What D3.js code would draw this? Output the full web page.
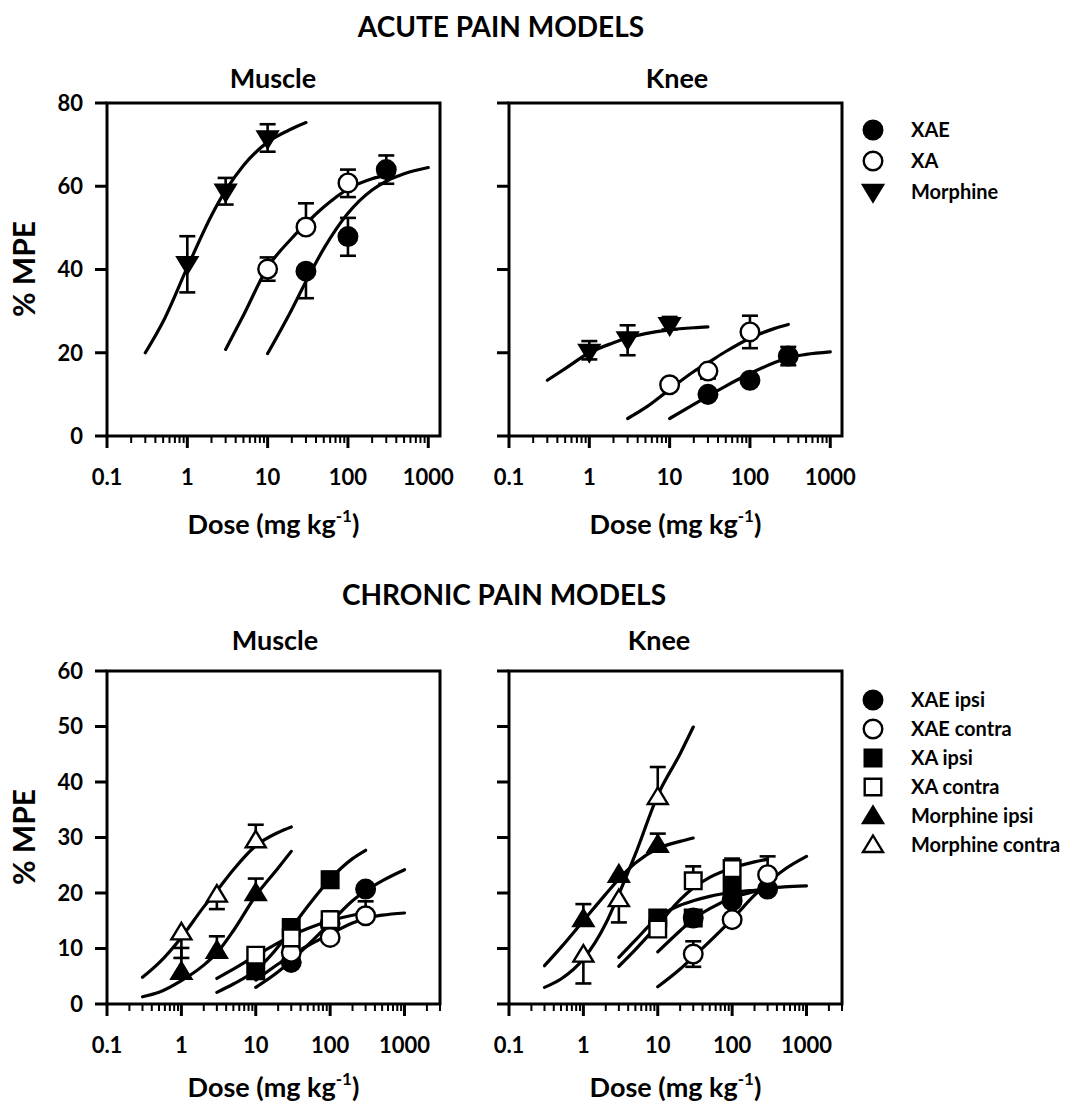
<!DOCTYPE html>
<html><head><meta charset="utf-8">
<script src="https://cdn.jsdelivr.net/npm/d3@7"></script>
<style>
body{margin:0;background:#fff}
svg{display:block}
text{font-family:Lato,'Open Sans',sans-serif;font-weight:700;fill:#000}
</style>
</head><body><div id="chart"></div>
<script>
// ================= DATA =================
const xTickValues = [0.1, 1, 10, 100, 1000];
const xTickLabels = ["0.1", "1", "10", "100", "1000"];
const acuteYTicks = [0, 20, 40, 60, 80];
const chronicYTicks = [0, 10, 20, 30, 40, 50, 60];

const morphineDoses = [1, 3, 10];
const xaDoses = [10, 30, 100];
const xaeDoses = [30, 100, 300];
const morphineFitDoses = [0.3, 0.5, 1, 2, 3, 5, 10, 20, 30];
const xaFitDoses = [3, 5, 10, 20, 30, 50, 100, 200, 300];
const xaeFitDoses = [10, 20, 30, 50, 100, 200, 300, 500, 1000];

// errors given as [up, down]; 0 = bar not drawn
// ACUTE – Muscle
const acuteMuscleXAE = [39.6, 47.9, 64.0];
const acuteMuscleXAEErr = [[0, 6.5], [4.5, 4.6], [3.4, 3.4]];
const acuteMuscleXAEFit = [19.8, 30.4, 37.1, 45.0, 53.5, 59.1, 61.2, 63.0, 64.5];
const acuteMuscleXA = [40.1, 50.2, 60.8];
const acuteMuscleXAErr = [[2.8, 2.8], [5.7, 0], [3.2, 3.4]];
const acuteMuscleXAFit = [20.8, 29.0, 40.5, 47.5, 51.0, 55.0, 59.3, 61.8, 62.6];
const acuteMuscleMorphine = [41.3, 58.7, 71.5];
const acuteMuscleMorphineErr = [[6.7, 6.8], [3.3, 3.1], [3.4, 3.2]];
const acuteMuscleMorphineFit = [20.0, 27.5, 40.5, 53.0, 59.0, 65.0, 70.6, 73.8, 75.3];

// ACUTE – Knee
const acuteKneeXAE = [10.0, 13.4, 19.2];
const acuteKneeXAEErr = [[0, 0], [0, 0], [2.2, 2.2]];
const acuteKneeXAEFit = [4.2, 7.6, 9.6, 12.0, 15.0, 17.6, 18.8, 19.6, 20.2];
const acuteKneeXA = [12.3, 15.6, 25.0];
const acuteKneeXAErr = [[0, 0], [0, 1.8], [3.9, 3.9]];
const acuteKneeXAFit = [4.2, 6.8, 11.2, 15.5, 17.6, 20.3, 23.5, 25.8, 26.8];
const acuteKneeMorphine = [20.2, 23.2, 26.6];
const acuteKneeMorphineErr = [[2.6, 1.8], [3.4, 3.8], [2.0, 1.0]];
const acuteKneeMorphineFit = [13.4, 16.2, 20.0, 22.4, 23.6, 24.6, 25.5, 26.0, 26.2];

// CHRONIC – Muscle
const chronicMuscleXAEIpsi = [7.5, 14.5, 20.7];
const chronicMuscleXAEIpsiErr = [[0, 0], [0, 0], [0, 0]];
const chronicMuscleXAEIpsiFit = [3.0, 5.8, 7.8, 10.6, 14.6, 18.6, 20.4, 22.2, 24.2];
const chronicMuscleXAEContra = [9.3, 12.0, 15.9];
const chronicMuscleXAEContraErr = [[0, 0], [0, 0], [2.6, 0]];
const chronicMuscleXAEContraFit = [4.3, 7.2, 8.8, 10.5, 12.6, 14.6, 15.4, 16.0, 16.4];
const chronicMuscleXAIpsi = [6.0, 13.8, 22.4];
const chronicMuscleXAIpsiErr = [[0, 0], [0, 0], [1.4, 0]];
const chronicMuscleXAIpsiFit = [2.1, 3.6, 6.1, 10.3, 13.6, 17.6, 22.5, 26.2, 27.7];
const chronicMuscleXAContra = [8.8, 11.9, 15.2];
const chronicMuscleXAContraErr = [[0, 0], [0, 0], [1.5, 0]];
const chronicMuscleXAContraFit = [4.6, 6.3, 8.7, 11.0, 12.3, 13.6, 15.0, 16.0, 16.4];
const chronicMuscleMorphineIpsi = [5.8, 9.6, 20.0];
const chronicMuscleMorphineIpsiErr = [[4.3, 0], [2.6, 0], [2.6, 0]];
const chronicMuscleMorphineIpsiFit = [1.3, 2.1, 4.2, 7.0, 9.2, 13.2, 19.5, 24.5, 27.5];
const chronicMuscleMorphineContra = [12.9, 19.7, 29.5];
const chronicMuscleMorphineContraErr = [[0, 4.6], [0, 2.6], [2.8, 0]];
const chronicMuscleMorphineContraFit = [4.8, 7.4, 12.0, 17.5, 20.4, 24.2, 28.5, 30.9, 31.9];

// CHRONIC – Knee
const chronicKneeXAEIpsi = [15.5, 18.6, 20.7];
const chronicKneeXAEIpsiErr = [[0, 0], [0, 0], [0, 0]];
const chronicKneeXAEIpsiFit = [9.4, 13.2, 15.3, 17.2, 19.1, 20.3, 20.8, 21.1, 21.3];
const chronicKneeXAEContra = [9.0, 15.2, 23.3];
const chronicKneeXAEContraErr = [[2.3, 2.3], [0, 0], [3.3, 0]];
const chronicKneeXAEContraFit = [3.1, 6.3, 8.5, 11.3, 15.3, 19.6, 21.8, 24.2, 26.6];
const chronicKneeXAIpsi = [15.5, 15.5, 21.0];
const chronicKneeXAIpsiErr = [[0, 0], [0, 0], [0, 0]];
const chronicKneeXAIpsiFit = [8.4, 11.5, 15.6, 17.8, 18.6, 19.4, 20.1, 20.5, 20.7];
const chronicKneeXAContra = [13.5, 22.2, 24.4];
const chronicKneeXAContraErr = [[0, 0], [2.6, 0], [1.8, 0]];
const chronicKneeXAContraFit = [6.8, 9.8, 14.2, 18.8, 20.9, 22.8, 24.5, 25.6, 26.1];
const chronicKneeMorphineIpsi = [15.3, 23.3, 28.7];
const chronicKneeMorphineIpsiErr = [[2.7, 0], [0, 0], [2.0, 0]];
const chronicKneeMorphineIpsiFit = [6.9, 10.2, 15.0, 19.8, 22.5, 25.4, 28.0, 29.3, 29.9];
const chronicKneeMorphineContra = [8.9, 18.9, 37.3];
const chronicKneeMorphineContraErr = [[0, 5.2], [0, 4.2], [5.4, 0]];
const chronicKneeMorphineContraFit = [3.0, 4.5, 8.1, 14.5, 19.8, 27.0, 37.6, 45.1, 49.9];

const acuteLegend = ["XAE", "XA", "Morphine"];
const chronicLegend = ["XAE ipsi", "XAE contra", "XA ipsi", "XA contra", "Morphine ipsi", "Morphine contra"];

// ================= DRAWING =================
const W = 1067, H = 1106, P = 333;
const svg = d3.select("#chart").append("svg").attr("width", W).attr("height", H);

function markerPath(shape) {
  switch (shape) {
    case "circle": return d3.symbol().type(d3.symbolCircle).size(Math.PI * 9.3 * 9.3)();
    case "square": return "M-8.3,-8.3H8.3V8.3H-8.3Z";
    case "triUp": return "M0,-9.5L10,7L-10,7Z";
    case "triDown": return "M0,9.5L10,-7L-10,-7Z";
  }
}

function series(doses, mean, err, fitDoses, fit, shape, filled) {
  return {
    pts: doses.map((d, i) => ({dose: d, v: mean[i], up: err[i][0], dn: err[i][1]})),
    fit: fitDoses.map((d, i) => ({dose: d, v: fit[i]})),
    shape, filled
  };
}

function drawPanel(ox, oy, xMax, yMax, yTicks, labelDy, list) {
  const g = svg.append("g").attr("transform", `translate(${ox},${oy})`);
  const x = d3.scaleLog().domain([0.1, xMax]).range([0, P]);
  const y = d3.scaleLinear().domain([0, yMax]).range([P, 0]);

  g.append("rect").attr("x", 0).attr("y", 0).attr("width", P).attr("height", P)
    .attr("fill", "none").attr("stroke", "#000").attr("stroke-width", 3);

  const allTicks = x.ticks();
  const majors = new Set(xTickValues);
  g.selectAll(".xt").data(allTicks).join("line")
    .attr("x1", d => x(d)).attr("x2", d => x(d))
    .attr("y1", P).attr("y2", d => majors.has(d) ? P + 12 : P + 7)
    .attr("stroke", "#000").attr("stroke-width", d => majors.has(d) ? 3 : 2);
  g.selectAll(".xl").data(xTickValues).join("text")
    .attr("x", d => x(d)).attr("y", P + 49).attr("text-anchor", "middle")
    .attr("font-size", 22).text((d, i) => xTickLabels[i]);

  g.selectAll(".yt").data(yTicks).join("line")
    .attr("x1", 0).attr("x2", -12).attr("y1", d => y(d)).attr("y2", d => y(d))
    .attr("stroke", "#000").attr("stroke-width", 3);

  const xl = g.append("text").attr("x", P / 2).attr("y", P + labelDy).attr("text-anchor", "middle").attr("font-size", 27);
  xl.append("tspan").text("Dose (mg kg");
  xl.append("tspan").attr("font-size", 17).attr("dy", -12).text("-1");
  xl.append("tspan").attr("dy", 12).text(")");

  const line = d3.line().x(d => x(d.dose)).y(d => y(d.v)).curve(d3.curveMonotoneX);
  list.forEach(s => {
    g.append("path").attr("d", line(s.fit)).attr("fill", "none").attr("stroke", "#000")
      .attr("stroke-width", 3.2).attr("stroke-linecap", "round");
  });
  list.forEach(s => {
    s.pts.forEach(p => {
      [[p.up, 1], [p.dn, -1]].forEach(([e, sg]) => {
        if (!e) return;
        const yy = y(p.v + sg * e), xx = x(p.dose);
        g.append("line").attr("x1", xx).attr("x2", xx).attr("y1", y(p.v)).attr("y2", yy)
          .attr("stroke", "#000").attr("stroke-width", 2.6);
        g.append("line").attr("x1", xx - 8).attr("x2", xx + 8).attr("y1", yy).attr("y2", yy)
          .attr("stroke", "#000").attr("stroke-width", 2.6);
      });
    });
  });
  list.forEach(s => {
    g.selectAll(null).data(s.pts).join("path")
      .attr("transform", d => `translate(${x(d.dose)},${y(d.v)})`)
      .attr("d", markerPath(s.shape))
      .attr("fill", s.filled ? "#000" : "#fff").attr("stroke", "#000").attr("stroke-width", 2.4);
  });
}

function yAxisLabels(ox, oy, yMax, yTicks) {
  const y = d3.scaleLinear().domain([0, yMax]).range([P, 0]);
  const g = svg.append("g").attr("transform", `translate(${ox},${oy})`);
  g.selectAll("text").data(yTicks).join("text")
    .attr("x", -24).attr("y", d => y(d)).attr("dy", "0.36em")
    .attr("text-anchor", "end").attr("font-size", 22).text(d => d);
}

function legend(x0, y0, step, labels, shapes, fills) {
  labels.forEach((l, i) => {
    const cy = y0 + i * step;
    svg.append("path").attr("transform", `translate(${x0},${cy})`).attr("d", markerPath(shapes[i]))
      .attr("fill", fills[i] ? "#000" : "#fff").attr("stroke", "#000").attr("stroke-width", 2.4);
    svg.append("text").attr("x", x0 + 38).attr("y", cy).attr("dy", "0.36em")
      .attr("font-size", 20).text(l);
  });
}

svg.append("text").attr("x", 501).attr("y", 37).attr("text-anchor", "middle").attr("font-size", 28).text("ACUTE PAIN MODELS");
svg.append("text").attr("x", 504).attr("y", 605).attr("text-anchor", "middle").attr("font-size", 28).text("CHRONIC PAIN MODELS");
svg.append("text").attr("x", 273).attr("y", 88).attr("text-anchor", "middle").attr("font-size", 27).text("Muscle");
svg.append("text").attr("x", 677).attr("y", 88).attr("text-anchor", "middle").attr("font-size", 27).text("Knee");
svg.append("text").attr("x", 275).attr("y", 650).attr("text-anchor", "middle").attr("font-size", 27).text("Muscle");
svg.append("text").attr("x", 659).attr("y", 650).attr("text-anchor", "middle").attr("font-size", 27).text("Knee");
[269, 837].forEach(cy => {
  svg.append("text").attr("transform", `translate(24,${cy}) rotate(-90)`).attr("text-anchor", "middle")
    .attr("dy", "0.36em").attr("font-size", 30).text("% MPE");
});

drawPanel(107, 103, 1400, 80, acuteYTicks, 98, [
  series(xaeDoses, acuteMuscleXAE, acuteMuscleXAEErr, xaeFitDoses, acuteMuscleXAEFit, "circle", true),
  series(xaDoses, acuteMuscleXA, acuteMuscleXAErr, xaFitDoses, acuteMuscleXAFit, "circle", false),
  series(morphineDoses, acuteMuscleMorphine, acuteMuscleMorphineErr, morphineFitDoses, acuteMuscleMorphineFit, "triDown", true)
]);
yAxisLabels(107, 103, 80, acuteYTicks);
drawPanel(509, 103, 1400, 80, acuteYTicks, 98, [
  series(xaeDoses, acuteKneeXAE, acuteKneeXAEErr, xaeFitDoses, acuteKneeXAEFit, "circle", true),
  series(xaDoses, acuteKneeXA, acuteKneeXAErr, xaFitDoses, acuteKneeXAFit, "circle", false),
  series(morphineDoses, acuteKneeMorphine, acuteKneeMorphineErr, morphineFitDoses, acuteKneeMorphineFit, "triDown", true)
]);
drawPanel(107, 671, 3000, 60, chronicYTicks, 93, [
  series(xaeDoses, chronicMuscleXAEIpsi, chronicMuscleXAEIpsiErr, xaeFitDoses, chronicMuscleXAEIpsiFit, "circle", true),
  series(xaeDoses, chronicMuscleXAEContra, chronicMuscleXAEContraErr, xaeFitDoses, chronicMuscleXAEContraFit, "circle", false),
  series(xaDoses, chronicMuscleXAIpsi, chronicMuscleXAIpsiErr, xaFitDoses, chronicMuscleXAIpsiFit, "square", true),
  series(xaDoses, chronicMuscleXAContra, chronicMuscleXAContraErr, xaFitDoses, chronicMuscleXAContraFit, "square", false),
  series(morphineDoses, chronicMuscleMorphineIpsi, chronicMuscleMorphineIpsiErr, morphineFitDoses, chronicMuscleMorphineIpsiFit, "triUp", true),
  series(morphineDoses, chronicMuscleMorphineContra, chronicMuscleMorphineContraErr, morphineFitDoses, chronicMuscleMorphineContraFit, "triUp", false)
]);
yAxisLabels(107, 671, 60, chronicYTicks);
drawPanel(509, 671, 3000, 60, chronicYTicks, 93, [
  series(xaDoses, chronicKneeXAIpsi, chronicKneeXAIpsiErr, xaFitDoses, chronicKneeXAIpsiFit, "square", true),
  series(xaeDoses, chronicKneeXAEIpsi, chronicKneeXAEIpsiErr, xaeFitDoses, chronicKneeXAEIpsiFit, "circle", true),
  series(xaeDoses, chronicKneeXAEContra, chronicKneeXAEContraErr, xaeFitDoses, chronicKneeXAEContraFit, "circle", false),
  series(xaDoses, chronicKneeXAContra, chronicKneeXAContraErr, xaFitDoses, chronicKneeXAContraFit, "square", false),
  series(morphineDoses, chronicKneeMorphineIpsi, chronicKneeMorphineIpsiErr, morphineFitDoses, chronicKneeMorphineIpsiFit, "triUp", true),
  series(morphineDoses, chronicKneeMorphineContra, chronicKneeMorphineContraErr, morphineFitDoses, chronicKneeMorphineContraFit, "triUp", false)
]);

legend(873, 130, 31, acuteLegend, ["circle", "circle", "triDown"], [true, false, true]);
legend(873, 700, 29, chronicLegend, ["circle", "circle", "square", "square", "triUp", "triUp"], [true, false, true, false, true, false]);
</script>
</body></html>
